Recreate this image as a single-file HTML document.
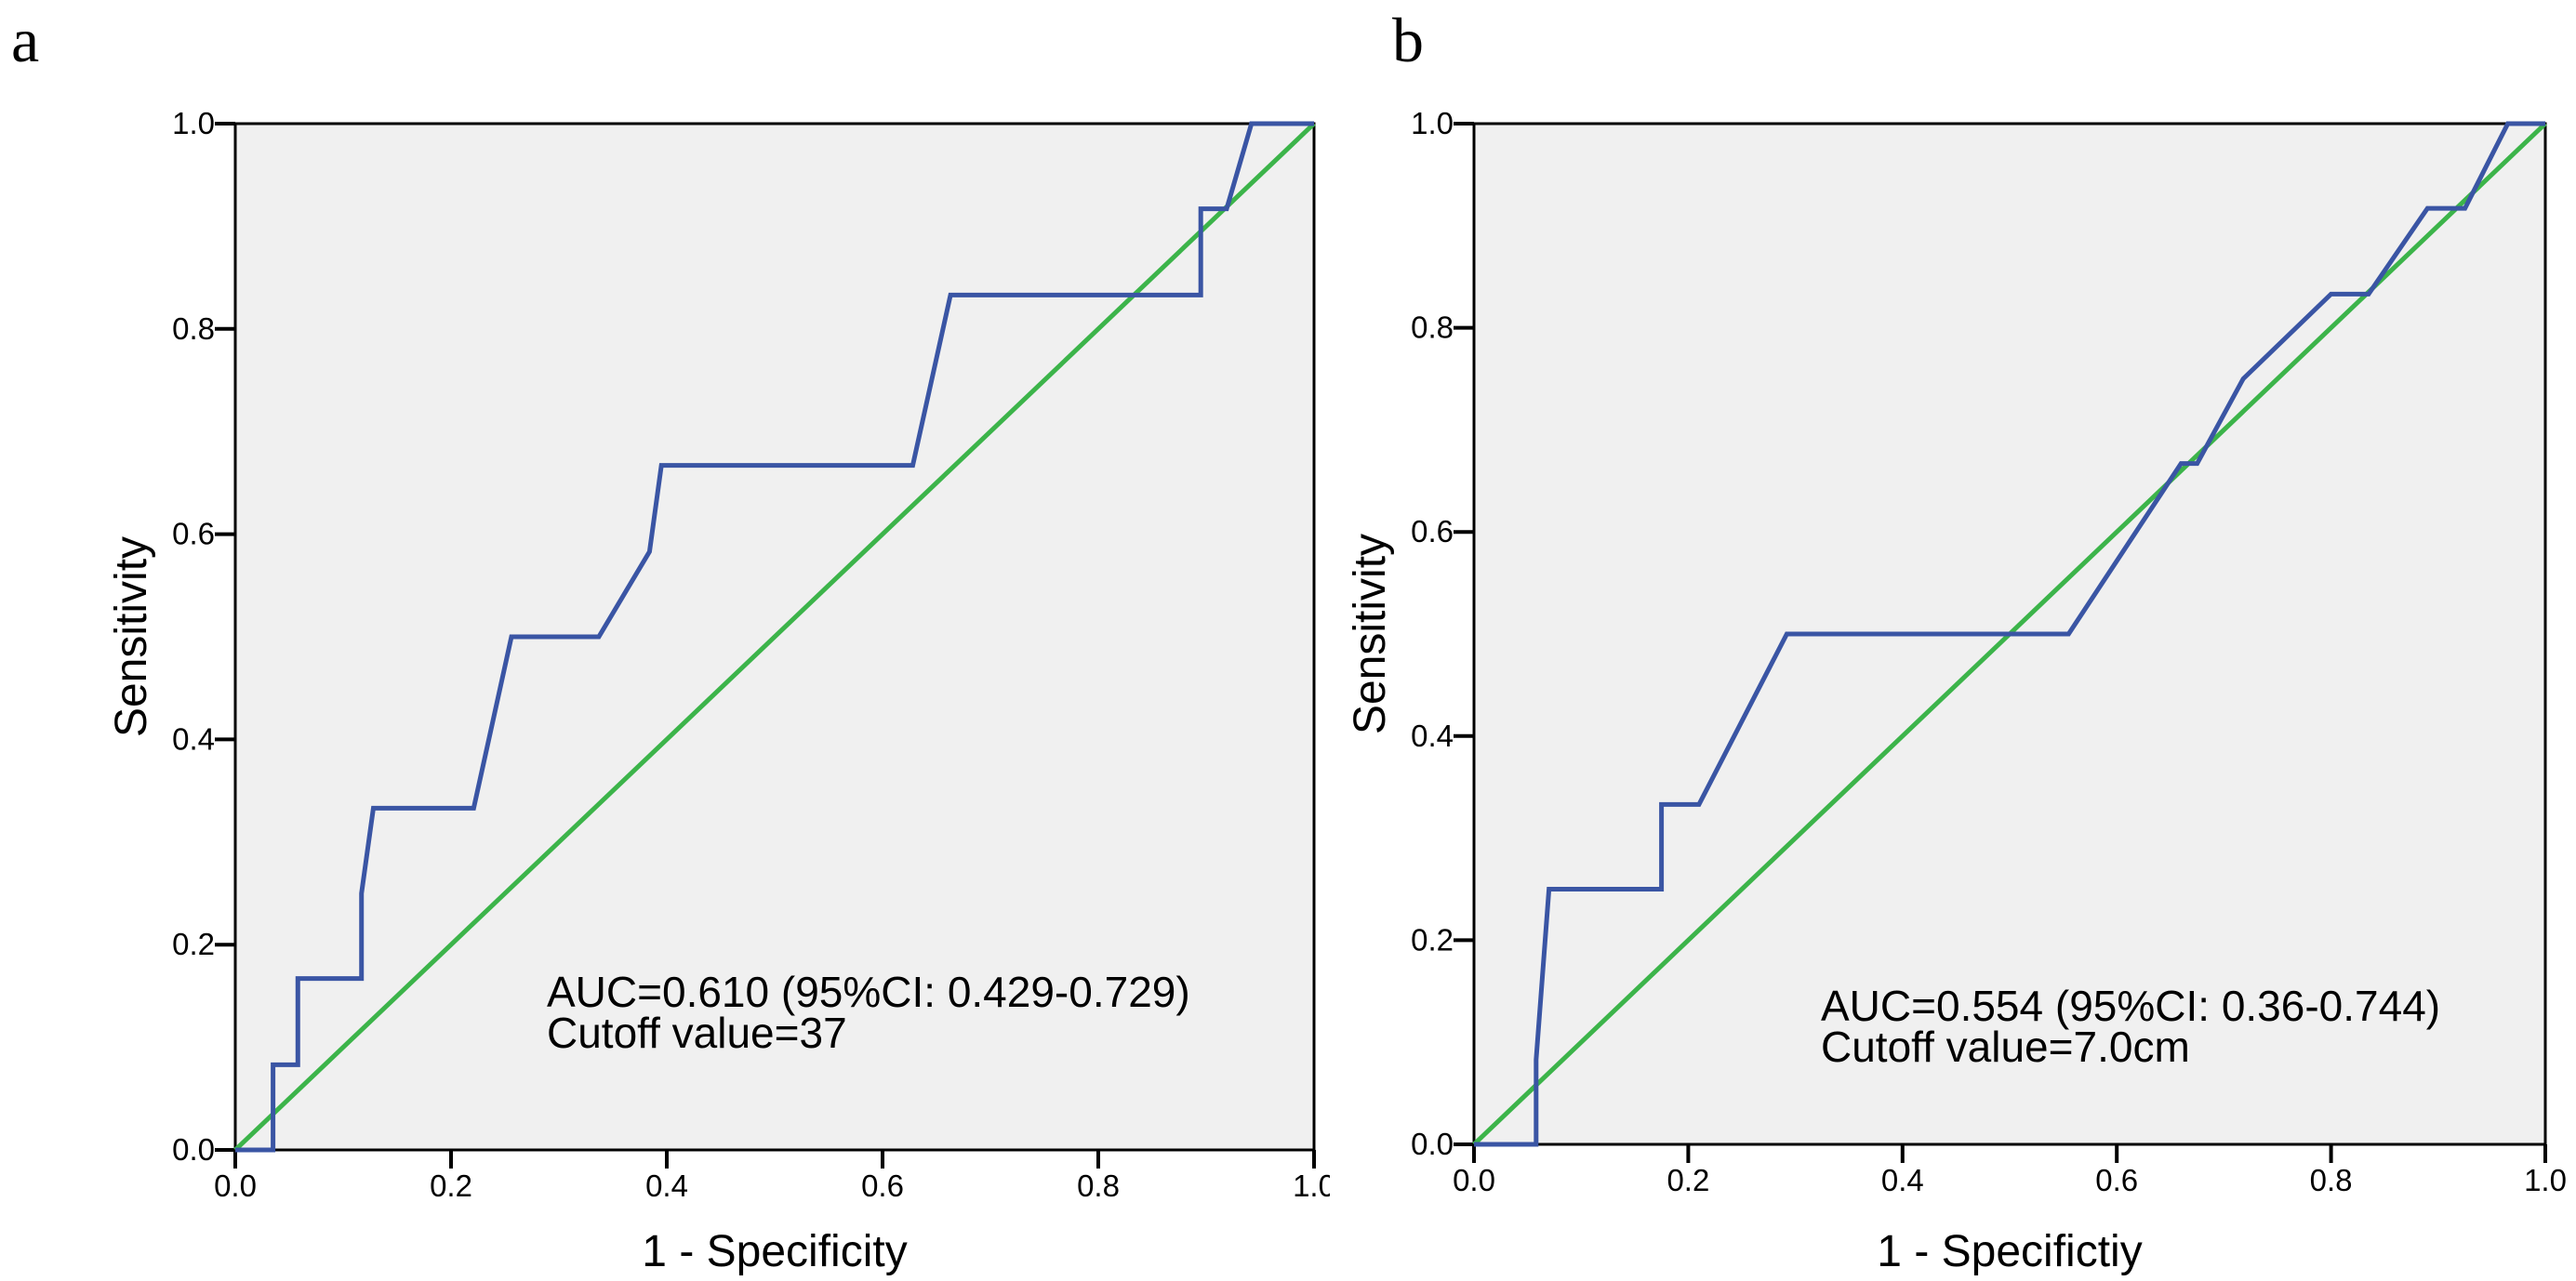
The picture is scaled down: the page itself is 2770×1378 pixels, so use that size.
<!DOCTYPE html>
<html><head><meta charset="utf-8"><style>html,body{margin:0;padding:0;background:#fff}svg{display:block}</style></head>
<body>
<svg id="chart" width="2770" height="1378" viewBox="0 0 2770 1378" xmlns="http://www.w3.org/2000/svg" font-family="Liberation Sans, sans-serif">
<defs><clipPath id="clipA"><rect x="0" y="0" width="1430" height="1378"/></clipPath></defs>
<g id="panelA" clip-path="url(#clipA)"></g>
<g id="panelB"></g>
</svg>
<script>
const ticks = [0, 0.2, 0.4, 0.6, 0.8, 1.0];
const tickLabels = ["0.0","0.2","0.4","0.6","0.8","1.0"];
const aX = [0,0.035,0.035,0.058,0.058,0.117,0.117,0.128,0.221,0.256,0.337,0.384,0.395,0.628,0.663,0.895,0.895,0.919,0.942,1];
const aY = [0,0,0.083,0.083,0.167,0.167,0.25,0.333,0.333,0.5,0.5,0.583,0.667,0.667,0.833,0.833,0.917,0.917,1,1];
const bX = [0,0.058,0.058,0.07,0.175,0.175,0.21,0.292,0.555,0.66,0.675,0.718,0.8,0.835,0.89,0.925,0.965,1];
const bY = [0,0,0.083,0.25,0.25,0.333,0.333,0.5,0.5,0.667,0.667,0.75,0.833,0.833,0.917,0.917,1,1];
const NS='http://www.w3.org/2000/svg';
function mk(parent, tag, attrs, text){const e=document.createElementNS(NS,tag);for(const k in attrs)e.setAttribute(k,attrs[k]);if(text!==undefined)e.textContent=text;parent.appendChild(e);return e;}
function panel(g, cfg){
  const sx=v=>cfg.x0+v*(cfg.x1-cfg.x0), sy=v=>cfg.y0-v*(cfg.y0-cfg.y1);
  const bg=mk(g,'rect',{x:cfg.x0,y:cfg.y1,width:cfg.x1-cfg.x0,height:cfg.y0-cfg.y1,fill:'#f0f0f0',stroke:'#000','stroke-width':3});
  
  
  ticks.forEach((t,i)=>{
    const l1=mk(g,'line',{x1:sx(t),x2:sx(t),y1:cfg.y0,y2:cfg.y0+20,stroke:'#000','stroke-width':4});
    
    
    const t1=mk(g,'text',{x:sx(t),y:cfg.y0+50,'font-size':33,'text-anchor':'middle'},tickLabels[i]);
    
    
    const l2=mk(g,'line',{x1:cfg.x0-22,x2:cfg.x0,y1:sy(t),y2:sy(t),stroke:'#000','stroke-width':4});
    
    
    const t2=mk(g,'text',{x:cfg.x0-22,y:sy(t)+11,'font-size':33,'text-anchor':'end'},tickLabels[i]);
    
    
  });
  const ref=mk(g,'line',{x1:sx(0),y1:sy(0),x2:sx(1),y2:sy(1),stroke:'#3cb44a','stroke-width':5});
  
  
  const pts=cfg.xs.map((v,i)=>sx(v)+','+sy(cfg.ys[i])).join(' ');
  const roc=mk(g,'polyline',{points:pts,fill:'none',stroke:'#3a55a4','stroke-width':5,'stroke-linejoin':'miter'});
  
  
  const a1=mk(g,'text',{x:cfg.tx,y:cfg.ty,'font-size':46},cfg.auc);
  
  
  const a2=mk(g,'text',{x:cfg.tx,y:cfg.ty+44,'font-size':46},cfg.cut);
  
  
  const xt=mk(g,'text',{x:(cfg.x0+cfg.x1)/2,y:1362,'font-size':48,'text-anchor':'middle'},cfg.xtitle);
  
  
  const yt=mk(g,'text',{x:0,y:0,'font-size':48,'text-anchor':'middle',transform:'translate('+(cfg.x0-96)+','+((cfg.y0+cfg.y1)/2)+') rotate(-90)'},'Sensitivity');
  
  
  const pl=mk(g,'text',{x:cfg.lx,y:66,'font-size':68,'font-family':'Liberation Serif, serif'},cfg.letter);
  
  
}
panel(document.getElementById('panelA'),{x0:253,x1:1413,y0:1237,y1:133,xs:aX,ys:aY,tx:588,ty:1083,auc:'AUC=0.610 (95%CI: 0.429-0.729)',cut:'Cutoff value=37',xtitle:'1 - Specificity',letter:'a',lx:12});
panel(document.getElementById('panelB'),{x0:1585,x1:2737,y0:1231,y1:133,xs:bX,ys:bY,tx:1958,ty:1098,auc:'AUC=0.554 (95%CI: 0.36-0.744)',cut:'Cutoff value=7.0cm',xtitle:'1 - Specifictiy',letter:'b',lx:1497});
</script>
</body></html>
